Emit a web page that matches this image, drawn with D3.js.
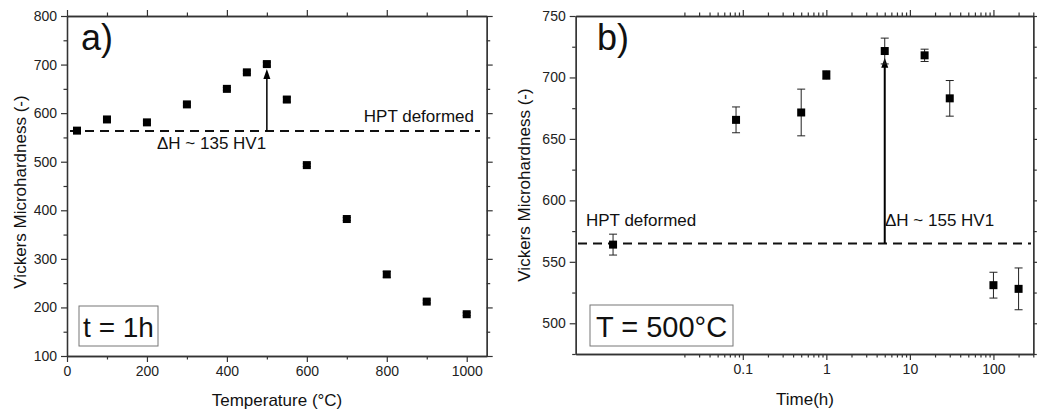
<!DOCTYPE html>
<html>
<head>
<meta charset="utf-8">
<script src="https://cdn.jsdelivr.net/npm/d3@7"></script>
<style>
  body { margin: 0; background: #fff; }
  svg { font-family: "Liberation Sans", Arial, sans-serif; }
</style>
</head>
<body>
<svg width="1037" height="412"></svg>
<script>
// panel a) : hardness vs temperature, t = 1h
const tempC = [25, 100, 200, 300, 400, 450, 500, 550, 600, 700, 800, 900, 1000];
const hvTemp = [564, 587, 581, 618, 650, 684, 701, 628, 493, 382, 268, 212, 186];
const hvTempErr = [3, 3, 3, 3, 3, 3, 4, 5, 3, 3, 6, 3, 3];

// panel b) : hardness vs time, T = 500°C
const timeH = [0.0028, 0.083, 0.5, 1, 5, 15, 30, 100, 200];
const hvTime = [564, 665.5, 671.5, 702, 721.5, 718, 683, 531, 528];
const hvTimeErr = [8.5, 10.5, 19, 3.5, 10.5, 5, 14.5, 10.5, 17];

const hptA = 563, hptB = 565;
const xTicksA = [0, 200, 400, 600, 800, 1000];
const yTicksA = [100, 200, 300, 400, 500, 600, 700, 800];
const xTicksB = [0.1, 1, 10, 100];
const yTicksB = [500, 550, 600, 650, 700, 750];

const svg = d3.select("svg");
const axisColor = "#333";

function styleAxis(g) {
  g.select(".domain").attr("stroke", axisColor).attr("stroke-width", 1.3);
  g.selectAll(".tick line").attr("stroke", axisColor).attr("stroke-width", 1.2);
  g.selectAll(".tick text").attr("fill", "#222").style("font-size", "14px");
}

function drawFrame(x, y, left, right, top, bottom, majX, minX, majY, minY, fmtX) {
  const axes = [
    [d3.axisBottom(x), "translate(0," + bottom + ")", majX, minX, true],
    [d3.axisTop(x), "translate(0," + top + ")", majX, minX, false],
    [d3.axisLeft(y), "translate(" + left + ",0)", majY, minY, true],
    [d3.axisRight(y), "translate(" + right + ",0)", majY, minY, false]
  ];
  axes.forEach(([ax, tr, maj, min, lab]) => {
    // minor ticks
    svg.append("g").attr("transform", tr)
      .call(ax.tickValues(min).tickSize(3.5).tickSizeOuter(0).tickFormat(""))
      .call(styleAxis);
    const major = svg.append("g").attr("transform", tr)
      .call(ax.tickValues(maj).tickSize(6).tickSizeOuter(0).tickPadding(lab ? 4 : 0)
        .tickFormat(lab ? (ax === axes[0][0] ? fmtX : d3.format("d")) : ""))
      .call(styleAxis);
  });
}

function drawPoints(x, y, xs, ys, errs) {
  const g = svg.append("g");
  xs.forEach((xv, i) => {
    const cx = x(xv);
    const y0 = y(ys[i] - errs[i]), y1 = y(ys[i] + errs[i]);
    g.append("line").attr("x1", cx).attr("x2", cx).attr("y1", y0).attr("y2", y1)
      .attr("stroke", "#222").attr("stroke-width", 1);
    [y0, y1].forEach(yy => g.append("line").attr("x1", cx - 4).attr("x2", cx + 4)
      .attr("y1", yy).attr("y2", yy).attr("stroke", "#222").attr("stroke-width", 1));
  });
  g.selectAll("rect.pt").data(xs).enter().append("rect")
    .attr("x", (d) => x(d) - 4).attr("y", (d, i) => y(ys[i]) - 4)
    .attr("width", 8).attr("height", 8).attr("fill", "#000");
}

function arrow(xp, yFrom, yTo, w) {
  svg.append("line").attr("x1", xp).attr("x2", xp).attr("y1", yFrom).attr("y2", yTo + 6)
    .attr("stroke", "#000").attr("stroke-width", w);
  svg.append("path")
    .attr("d", "M" + xp + "," + yTo + " L" + (xp - 3.5) + "," + (yTo + 10) + " L" + (xp + 3.5) + "," + (yTo + 10) + " Z")
    .attr("fill", "#000");
}

function boxLabel(x0, y0, w, h, txt, size) {
  svg.append("rect").attr("x", x0).attr("y", y0).attr("width", w).attr("height", h)
    .attr("fill", "#fff").attr("stroke", "#777").attr("stroke-width", 1);
  svg.append("text").attr("x", x0 + w / 2).attr("y", y0 + h - 9).attr("text-anchor", "middle")
    .style("font-size", size + "px").attr("fill", "#111").text(txt);
}

// ---------- panel a ----------
const xA = d3.scaleLinear().domain([0, 1050]).range([67, 486.7]);
const yA = d3.scaleLinear().domain([100, 800]).range([356, 16]);
const minXA = d3.range(100, 1050, 200);
const minYA = d3.range(150, 800, 100);

svg.append("line").attr("x1", 70).attr("x2", 480).attr("y1", yA(hptA)).attr("y2", yA(hptA))
  .attr("stroke", "#111").attr("stroke-width", 2).attr("stroke-dasharray", "9,6");
drawFrame(xA, yA, 67, 486.7, 16, 356, xTicksA, minXA, yTicksA, minYA, d3.format("d"));
arrow(xA(500), yA(hptA), yA(701) + 5, 1.5);
drawPoints(xA, yA, tempC, hvTemp, hvTempErr);

svg.append("text").attr("x", 81).attr("y", 50).style("font-size", "36px").attr("fill", "#111").text("a)");
svg.append("text").attr("x", 474).attr("y", 122).attr("text-anchor", "end").style("font-size", "17px").attr("fill", "#111").text("HPT deformed");
svg.append("text").attr("x", 157).attr("y", 149).style("font-size", "17px").attr("fill", "#111").text("\u0394H ~ 135 HV1");
boxLabel(79, 306, 79, 40, "t = 1h", 28);
svg.append("text").attr("x", 277).attr("y", 406).attr("text-anchor", "middle").style("font-size", "17px").attr("fill", "#111").text("Temperature (\u00b0C)");
svg.append("text").attr("transform", "translate(26,192) rotate(-90)").attr("text-anchor", "middle").style("font-size", "17px").attr("fill", "#111").text("Vickers Microhardness (-)");

// ---------- panel b ----------
const xB = d3.scaleLog().domain([0.001, 300]).range([575.7, 1033.3]);
const yB = d3.scaleLinear().domain([475, 750]).range([354, 16]);
const minXB = [];
[0.01, 0.1, 1, 10, 100].forEach(dec => {
  for (let k = 2; k <= 9; k++) {
    const v = dec * k;
    if (v <= 300) minXB.push(v);
  }
});
const minYB = d3.range(475, 750, 50);

svg.append("line").attr("x1", 578).attr("x2", 1031).attr("y1", yB(hptB)).attr("y2", yB(hptB))
  .attr("stroke", "#111").attr("stroke-width", 2).attr("stroke-dasharray", "9,6");
drawFrame(xB, yB, 575.7, 1033.3, 16, 354, xTicksB, minXB, yTicksB, minYB, d3.format("~g"));
arrow(xB(5), yB(hptB), yB(716), 2);
drawPoints(xB, yB, timeH, hvTime, hvTimeErr);

svg.append("text").attr("x", 597).attr("y", 50).style("font-size", "36px").attr("fill", "#111").text("b)");
svg.append("text").attr("x", 586).attr("y", 226).style("font-size", "17px").attr("fill", "#111").text("HPT deformed");
svg.append("text").attr("x", 885).attr("y", 226).style("font-size", "17px").attr("fill", "#111").text("\u0394H ~ 155 HV1");
boxLabel(590, 305, 143, 41, "T = 500\u00b0C", 29);
svg.append("text").attr("x", 805).attr("y", 405).attr("text-anchor", "middle").style("font-size", "17px").attr("fill", "#111").text("Time(h)");
svg.append("text").attr("transform", "translate(530,185) rotate(-90)").attr("text-anchor", "middle").style("font-size", "17px").attr("fill", "#111").text("Vickers Microhardness (-)");
</script>
</body>
</html>
